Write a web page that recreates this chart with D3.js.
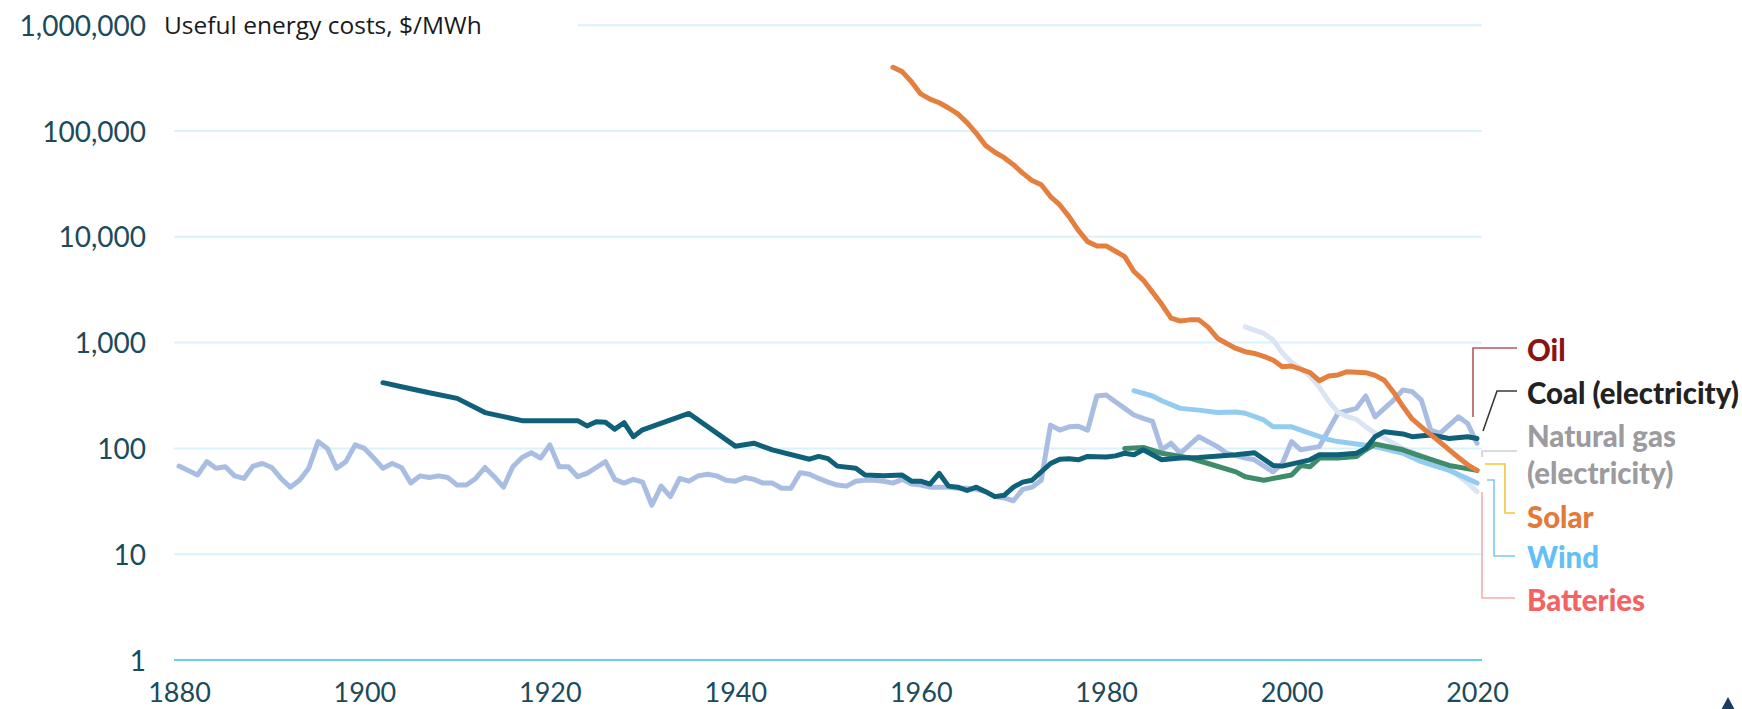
<!DOCTYPE html>
<html><head><meta charset="utf-8">
<script src="https://cdn.jsdelivr.net/npm/d3@7"></script>
<style>body{margin:0;background:#fff;overflow:hidden}</style>
</head><body>
<svg id="chart" width="1742" height="709"></svg>
<script>
// ---------- data ----------
const yearTicks = [1880, 1900, 1920, 1940, 1960, 1980, 2000, 2020];
const valueTicks = [1, 10, 100, 1000, 10000, 100000, 1000000];
const titleText = "Useful energy costs, $/MWh";

const oil = [[1880,68],[1882,56],[1883,75],[1884,65],[1885,67],[1886,55],[1887,52],[1888,68],[1889,72],[1890,66],[1891,52],[1892,43],[1893,50],[1894,65],[1895,116],[1896,100],[1897,65],[1898,75],[1899,108],[1900,100],[1901,81],[1902,65],[1903,72],[1904,66],[1905,47],[1906,55],[1907,53],[1908,55],[1909,53],[1910,45],[1911,45],[1912,52],[1913,66],[1914,54],[1915,43],[1916,67],[1917,82],[1918,91],[1919,81],[1920,108],[1921,67],[1922,67],[1923,54],[1924,58],[1925,66],[1926,75],[1927,51],[1928,47],[1929,51],[1930,48],[1931,29],[1932,44],[1933,35],[1934,52],[1935,49],[1936,55],[1937,57],[1938,55],[1939,50],[1940,49],[1941,53],[1942,51],[1943,47],[1944,47],[1945,42],[1946,42],[1947,59],[1948,57],[1949,52],[1950,48],[1951,45],[1952,44],[1953,49],[1954,50],[1955,50],[1956,49],[1957,47],[1958,51],[1959,46],[1960,45],[1961,43],[1962,43],[1963,43],[1964,42],[1965,42],[1966,41],[1967,39],[1968,35],[1969,34],[1970,32],[1971,41],[1972,43],[1973,50],[1974,166],[1975,149],[1976,160],[1977,162],[1978,149],[1979,313],[1980,320],[1981,276],[1982,239],[1983,207],[1984,192],[1985,180],[1986,97],[1987,112],[1988,90],[1990,129],[1992,104],[1993,90],[1995,81],[1996,78],[1998,60],[1999,72],[2000,116],[2001,97],[2003,104],[2004,149],[2005,215],[2007,239],[2008,313],[2009,199],[2011,286],[2012,356],[2013,344],[2014,286],[2015,149],[2016,139],[2018,199],[2019,172],[2020,112]];

const coal = [[1902,418],[1904,383],[1907,336],[1910,297],[1913,218],[1917,183],[1923,183],[1924,163],[1925,179],[1926,177],[1927,152],[1928,175],[1929,129],[1930,150],[1935,214],[1940,105],[1942,112],[1944,97],[1948,79],[1949,84],[1950,80],[1951,68],[1953,65],[1954,56],[1956,55],[1958,56],[1959,49],[1960,49],[1961,46],[1962,58],[1963,44],[1964,43],[1965,40],[1966,43],[1967,39],[1968,35],[1969,36],[1970,43],[1971,48],[1972,50],[1974,72],[1975,79],[1976,80],[1977,78],[1978,84],[1980,83],[1981,85],[1982,90],[1983,87],[1984,97],[1986,78],[1988,81],[1990,82],[1994,87],[1996,91],[1998,69],[1999,68],[2002,78],[2003,87],[2005,87],[2007,90],[2008,100],[2009,129],[2010,144],[2012,137],[2013,129],[2015,134],[2017,124],[2019,129],[2020,124]];

const gas = [[1982,100],[1984,102],[1986,90],[1989,81],[1991,72],[1994,60],[1995,54],[1997,50],[1999,54],[2000,56],[2001,69],[2002,67],[2003,81],[2005,81],[2007,84],[2008,97],[2009,110],[2012,97],[2014,84],[2017,69],[2020,62]];

const solar = [[1957,400000],[1958,364000],[1959,292000],[1960,224000],[1961,200000],[1962,185000],[1963,165000],[1964,145000],[1965,120000],[1966,95000],[1967,73000],[1968,63000],[1969,56000],[1970,48000],[1971,40000],[1972,34000],[1973,31000],[1974,24000],[1975,20000],[1976,15500],[1977,11500],[1978,9000],[1979,8200],[1980,8200],[1981,7300],[1982,6500],[1983,4700],[1984,3900],[1985,3000],[1986,2300],[1987,1700],[1988,1600],[1989,1640],[1990,1640],[1991,1400],[1992,1100],[1993,980],[1994,880],[1995,820],[1996,790],[1997,740],[1998,685],[1999,591],[2000,600],[2001,560],[2002,520],[2003,436],[2004,483],[2005,495],[2006,531],[2007,525],[2008,520],[2009,490],[2010,440],[2011,340],[2012,250],[2013,190],[2014,160],[2015,135],[2016,115],[2017,97],[2018,82],[2019,70],[2020,62]];

const wind = [[1983,351],[1985,313],[1986,282],[1988,239],[1990,230],[1992,218],[1994,221],[1995,215],[1997,186],[1998,160],[2000,160],[2002,139],[2004,121],[2005,116],[2007,110],[2009,104],[2012,90],[2014,75],[2017,62],[2020,47]];

const batteries = [[1995,1410],[1997,1220],[1998,1060],[1999,800],[2000,650],[2001,570],[2002,480],[2003,380],[2004,280],[2005,220],[2006,200],[2007,188],[2008,160],[2009,140],[2010,125],[2012,100],[2014,86],[2016,72],[2017,65],[2019,47],[2020,39]];

const legendLabels = ["Oil", "Coal (electricity)", "Natural gas", "(electricity)", "Solar", "Wind", "Batteries"];

// ---------- chart ----------
const svg = d3.select("#chart");
const x = d3.scaleLinear().domain([1880, 2020]).range([179, 1477]);
const y = d3.scaleLog().domain([1, 1e6]).range([660, 25.2]);

const tickFont = "Lato, 'Open Sans', sans-serif";

// gridlines
svg.append("g").selectAll("line").data(valueTicks).join("line")
  .attr("x1", d => d === 1e6 ? 578 : 174)
  .attr("x2", 1482)
  .attr("y1", d => y(d)).attr("y2", d => y(d))
  .attr("stroke", d => d === 1 ? "#6ccdef" : "#d9f2fb")
  .attr("stroke-width", 2);

// y axis labels
const yAxis = d3.axisLeft(y).tickValues(valueTicks).tickFormat(d3.format(",")).tickSize(0).tickPadding(0);
const yg = svg.append("g").attr("transform", "translate(146,0)").call(yAxis);
yg.select(".domain").remove();
yg.selectAll("text").attr("font-family", tickFont).attr("font-size", 28)
  .attr("fill", "#1c4b5b").attr("dy", "0.36em");

// x axis labels
const xAxis = d3.axisBottom(x).tickValues(yearTicks).tickFormat(d3.format("d")).tickSize(0).tickPadding(0);
const xg = svg.append("g").attr("transform", "translate(0,702)").call(xAxis);
xg.select(".domain").remove();
xg.selectAll("text").attr("font-family", tickFont).attr("font-size", 27)
  .attr("fill", "#1c4b5b").attr("dy", "0");

// title
const title = svg.append("text").attr("x", 164).attr("y", 25).attr("dy", "0.35em")
  .attr("font-family", "'Open Sans', 'Noto Sans', sans-serif").attr("font-size", 21)
  .attr("fill", "#1a1a1a").text(titleText);
const tw = title.node().getComputedTextLength();
title.attr("font-size", 21 * 318 / tw);

// lines
const line = d3.line().x(d => x(d[0])).y(d => y(d[1]));
const series = [
  {data: oil, color: "#a9bde3"},
  {data: batteries, color: "#dbe4f2"},
  {data: wind, color: "#94cbf1"},
  {data: gas, color: "#3e8c69"},
  {data: coal, color: "#0f6079"},
  {data: solar, color: "#e57f3f"}
];
svg.append("g").selectAll("path").data(series).join("path")
  .attr("d", d => line(d.data))
  .attr("fill", "none").attr("stroke", d => d.color)
  .attr("stroke-width", 5).attr("stroke-linejoin", "round").attr("stroke-linecap", "round");

// legend connectors
const connectors = [
  {pts: [[1473,417],[1473,348],[1517,348]], color: "#b6585b"},
  {pts: [[1483,431],[1497,391],[1517,391]], color: "#3a3a3a"},
  {pts: [[1482,457],[1482,451],[1517,451]], color: "#cfcfcf"},
  {pts: [[1485,464],[1505,464],[1505,513],[1515,513]], color: "#f7c531"},
  {pts: [[1487,480],[1494,480],[1494,556],[1515,556]], color: "#7fc6f7"},
  {pts: [[1482,492],[1482,598],[1515,598]], color: "#f8acac"}
];
svg.append("g").selectAll("path").data(connectors).join("path")
  .attr("d", d => d3.line()(d.pts)).attr("fill", "none")
  .attr("stroke", d => d.color).attr("stroke-width", 1.6);

// legend labels
const legendY = [350, 393, 436, 473, 517, 557, 600];
const lc = ["#8a1414", "#222222", "#9b9ba0", "#9b9ba0", "#e3793a", "#62bff7", "#f26464"];
const lg = svg.append("g").selectAll("text").data(legendLabels).join("text")
  .attr("x", 1527).attr("y", (d, i) => legendY[i]).attr("dy", "0.36em")
  .attr("font-family", "Lato, 'Noto Sans', sans-serif").attr("font-weight", 900)
  .attr("font-size", 25).attr("fill", (d, i) => lc[i]).text(d => d);
const cw = lg.filter(d => d === "Coal (electricity)").node().getComputedTextLength();
lg.attr("font-size", 25 * 212 / cw);

// corner mark
svg.append("path").attr("d", "M1720,712 L1728,697 L1736,712 Z").attr("fill", "#1d3b5e");
</script>
</body></html>
